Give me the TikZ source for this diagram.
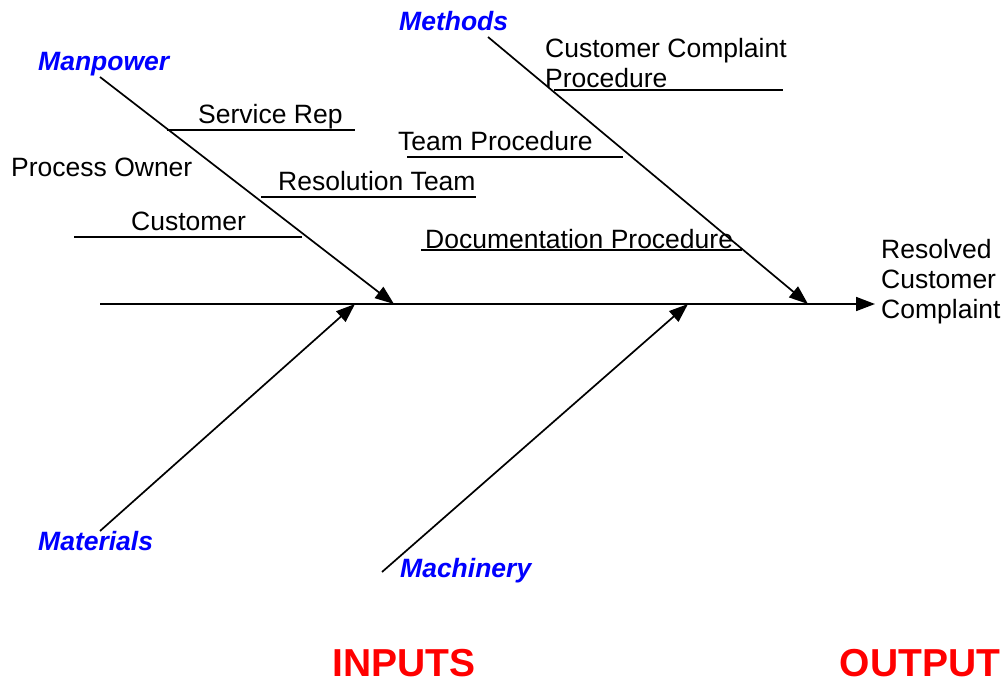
\documentclass[tikz,border=0pt]{standalone}
\usepackage{fontspec}
\setmainfont{Liberation Sans}
\usetikzlibrary{arrows.meta}
\definecolor{catblue}{RGB}{0,0,255}
\definecolor{titlered}{RGB}{255,0,0}
\begin{document}
\begin{tikzpicture}[x=1pt,y=-1pt,
  bone/.style={line width=1.7pt,-{Triangle[length=19pt,width=14pt]}},
  uline/.style={line width=1.7pt},
  cause/.style={anchor=base west,inner sep=0pt,font=\fontsize{26.5}{30}\selectfont},
  cat/.style={anchor=base west,inner sep=0pt,text=catblue,font=\fontsize{26.5}{30}\selectfont\bfseries\itshape},
  title/.style={anchor=base,inner sep=0pt,text=titlered,font=\fontsize{39}{44}\selectfont\bfseries}]
\useasboundingbox (0,0) rectangle (1003,683);
% spine
\coordinate (s0) at (100,304);
\coordinate (s1) at (875,304);
\draw[bone] (s0) -- (s1);
% bones
\coordinate (mp0) at (100,77);  \coordinate (mp1) at (394,304);
\coordinate (me0) at (488,37);  \coordinate (me1) at (808,304);
\coordinate (ma0) at (100,531); \coordinate (ma1) at (355,304);
\coordinate (mc0) at (382,572); \coordinate (mc1) at (688,304);
\draw[bone] (mp0) -- (mp1);
\draw[bone] (me0) -- (me1);
\draw[bone] (ma0) -- (ma1);
\draw[bone] (mc0) -- (mc1);
% category labels
\node[cat] (manpower) at (38,70) {Manpower};
\node[cat] (methods) at (399,30) {Methods};
\node[cat] (materials) at (38,550) {Materials};
\node[cat] (machinery) at (400,577) {Machinery};
% causes
\node[cause] (servicerep) at (198,123) {Service Rep};
\draw[uline] (167,130) -- (355,130);
\node[cause] (processowner) at (11,176) {Process Owner};
\node[cause] (resteam) at (278,190) {Resolution Team};
\draw[uline] (261,197) -- (476,197);
\node[cause] (customer) at (131,230) {Customer};
\draw[uline] (74,237) -- (302,237);
\node[cause] (teamproc) at (398,150) {Team Procedure};
\draw[uline] (407,157) -- (623,157);
\node[cause] (docproc) at (425,248) {Documentation Procedure};
\draw[uline] (421,250) -- (742,250);
\node[cause] (ccp1) at (545,57) {Customer Complaint};
\node[cause] (ccp2) at (545,87) {Procedure};
\draw[uline] (554,90) -- (783,90);
% effect
\node[cause] (eff1) at (881,258) {Resolved};
\node[cause] (eff2) at (881,288) {Customer};
\node[cause] (eff3) at (881,318) {Complaint};
% titles
\node[title] (inputs) at (404,676) {INPUTS};
\node[title] (output) at (920,676) {OUTPUT};
\end{tikzpicture}
\end{document}
